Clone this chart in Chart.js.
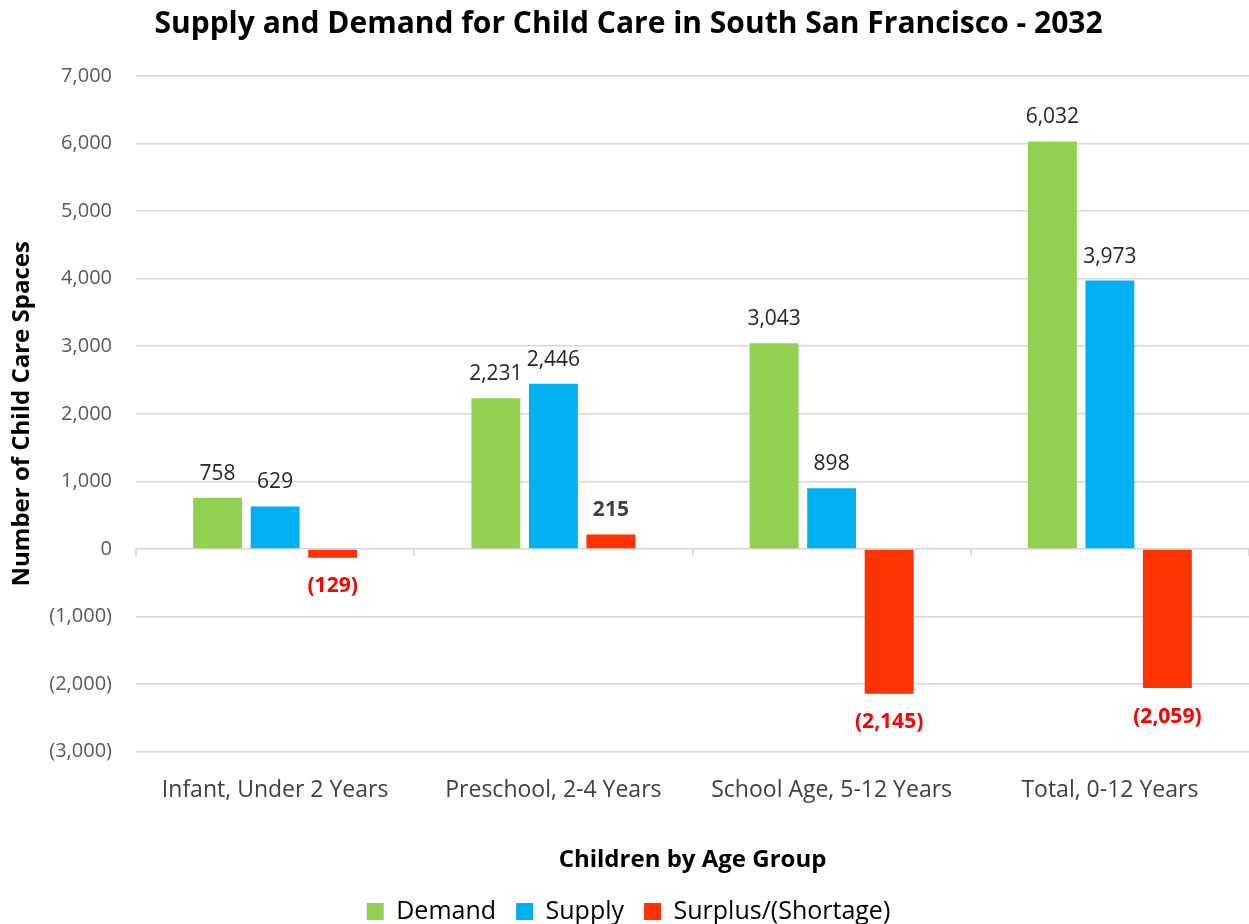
<!DOCTYPE html>
<html lang="en">
<head>
  <meta charset="UTF-8">
  <title>Supply and Demand for Child Care in South San Francisco - 2032</title>
  <script src="https://cdn.jsdelivr.net/npm/chart.js"></script>
  <style>
    body {
      margin: 0;
      padding: 0;
      background-color: #ffffff;
    }
    .chart-container {
      width: 1249px;
      height: 924px;
    }
  </style>
</head>
<body>
  <div class="chart-container">
    <canvas id="careChart" width="1249" height="924"></canvas>
  </div>

  <script>
    const categories = ["Infant, Under 2 Years", "Preschool, 2-4 Years", "School Age, 5-12 Years", "Total, 0-12 Years"];
    const demand = [758, 2231, 3043, 6032];
    const supply = [629, 2446, 898, 3973];
    const surplus = [-129, 215, -2145, -2059];

    const fontFamily = "'Open Sans', Lato, sans-serif";

    function formatNumber(v) {
      const s = Math.abs(v).toLocaleString("en-US");
      return v < 0 ? "(" + s + ")" : s;
    }

    // value labels above / below each bar
    const barLabels = {
      id: "barLabels",
      afterDatasetsDraw(chart) {
        const ctx = chart.ctx;
        ctx.save();
        ctx.textAlign = "center";
        chart.data.datasets.forEach((ds, i) => {
          const meta = chart.getDatasetMeta(i);
          meta.data.forEach((bar, j) => {
            const v = ds.data[j];
            const isSurplus = i === 2;
            ctx.font = (isSurplus ? "bold " : "") + "21px " + fontFamily;
            if (isSurplus) {
              ctx.fillStyle = v < 0 ? "#ff0000" : "#404040";
            } else {
              ctx.fillStyle = "#262626";
            }
            if (v >= 0) {
              ctx.textBaseline = "alphabetic";
              ctx.fillText(formatNumber(v), bar.x, bar.y - 18);
            } else {
              ctx.textBaseline = "top";
              ctx.fillText(formatNumber(v), bar.x, bar.y + 18);
            }
          });
        });
        ctx.restore();
      }
    };

    // small tick marks on the zero line between categories
    const zeroTicks = {
      id: "zeroTicks",
      afterDraw(chart) {
        const ctx = chart.ctx;
        const area = chart.chartArea;
        const y0 = chart.scales.y.getPixelForValue(0);
        const step = (area.right - area.left) / categories.length;
        ctx.save();
        ctx.strokeStyle = "#d0d0d0";
        ctx.lineWidth = 1.5;
        for (let i = 0; i <= categories.length; i++) {
          const x = Math.round(area.left + i * step);
          ctx.beginPath();
          ctx.moveTo(x, y0);
          ctx.lineTo(x, y0 + 7);
          ctx.stroke();
        }
        ctx.restore();
      }
    };

    const ctx = document.getElementById("careChart").getContext("2d");
    new Chart(ctx, {
      type: "bar",
      data: {
        labels: categories,
        datasets: [
          { label: "Demand", data: demand, backgroundColor: "#92d050" },
          { label: "Supply", data: supply, backgroundColor: "#00b0f0" },
          { label: "Surplus/(Shortage)", data: surplus, backgroundColor: "#ff3300" }
        ]
      },
      options: {
        responsive: false,
        animation: false,
        layout: { padding: { left: 8, right: 0, top: 6, bottom: -10 } },
        datasets: {
          bar: { categoryPercentage: 0.62, barPercentage: 0.85 }
        },
        plugins: {
          title: {
            display: true,
            text: "Supply and Demand for Child Care in South San Francisco - 2032",
            color: "#000000",
            font: { family: fontFamily, size: 30, weight: "bold" },
            padding: { top: 0, bottom: 34 }
          },
          legend: {
            position: "bottom",
            labels: {
              color: "#000000",
              font: { family: fontFamily, size: 25 },
              boxWidth: 17,
              boxHeight: 17,
              padding: 20
            }
          },
          tooltip: { enabled: false }
        },
        scales: {
          x: {
            grid: { display: false },
            border: { display: false },
            ticks: {
              color: "#404040",
              font: { family: fontFamily, size: 23 },
              padding: 17
            },
            title: {
              display: true,
              text: "Children by Age Group",
              color: "#000000",
              font: { family: fontFamily, size: 24, weight: "bold" },
              padding: { top: 25, bottom: 4 }
            }
          },
          y: {
            min: -3000,
            max: 7000,
            afterFit(scale) { scale.width = 128; },
            grid: { color: "#d6d6d6", lineWidth: 1.5, drawTicks: false },
            border: { display: false },
            ticks: {
              stepSize: 1000,
              color: "#595959",
              font: { family: fontFamily, size: 20 },
              padding: 24,
              callback: v => formatNumber(v)
            },
            title: {
              display: true,
              text: "Number of Child Care Spaces",
              color: "#000000",
              font: { family: fontFamily, size: 24, weight: "bold" },
              padding: { top: 0, bottom: 0 }
            }
          }
        }
      },
      plugins: [barLabels, zeroTicks]
    });
  </script>
</body>
</html>
